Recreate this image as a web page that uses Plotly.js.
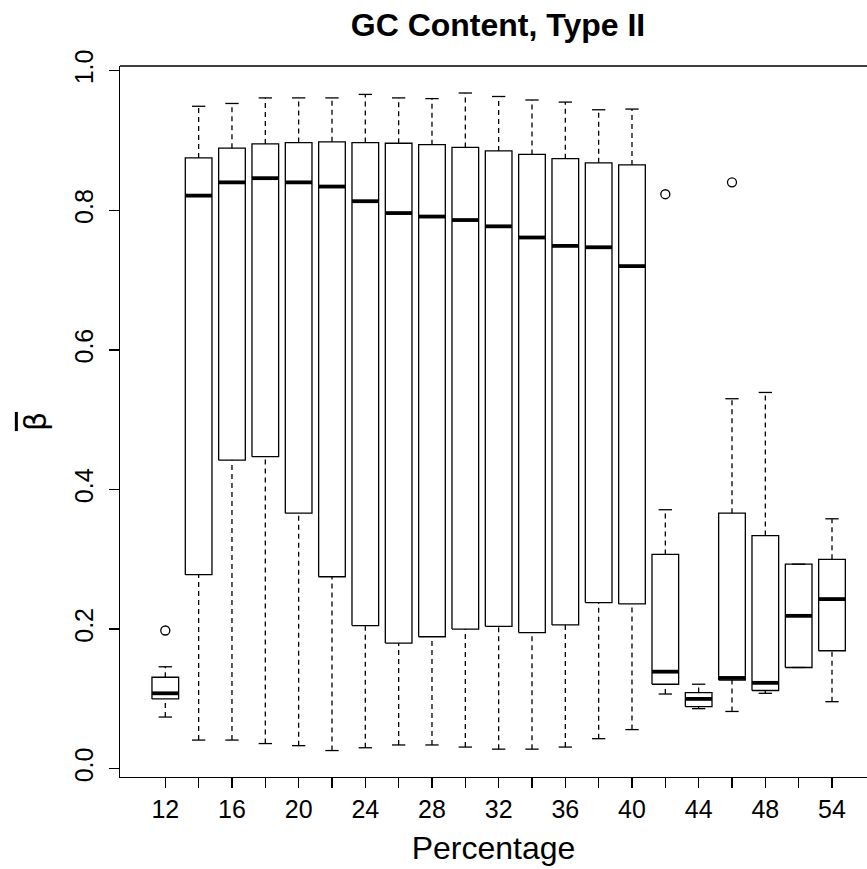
<!DOCTYPE html>
<html>
<head>
<meta charset="utf-8">
<script src="https://cdn.plot.ly/plotly-3.0.1.min.js"></script>
<style>
  html, body { margin: 0; padding: 0; background: #ffffff; }
  #chart { width: 867px; height: 869px; }
</style>
</head>
<body>
<div id="chart"></div>
<script>
// ---- data ----
const categories   = ['12','14','16','18','20','22','24','26','28','30','32','34','36','38','40','42','44','46','48','50','54'];
const xTickLabels  = ['12','','16','','20','','24','','28','','32','','36','','40','','44','','48','','54'];
const lowWhisker   = [0.074,0.041,0.041,0.036,0.033,0.026,0.030,0.034,0.034,0.031,0.028,0.028,0.031,0.043,0.056,0.107,0.086,0.082,0.108,0.145,0.096];
const q1           = [0.100,0.278,0.442,0.447,0.366,0.275,0.205,0.180,0.189,0.200,0.204,0.195,0.206,0.238,0.236,0.121,0.089,0.127,0.112,0.145,0.169];
const medians      = [0.108,0.821,0.840,0.846,0.840,0.834,0.813,0.796,0.791,0.786,0.777,0.761,0.749,0.747,0.720,0.139,0.100,0.130,0.123,0.219,0.243];
const q3           = [0.131,0.875,0.889,0.895,0.897,0.898,0.897,0.896,0.894,0.890,0.885,0.880,0.874,0.868,0.865,0.307,0.109,0.366,0.334,0.293,0.300];
const highWhisker  = [0.146,0.949,0.953,0.961,0.961,0.961,0.966,0.961,0.960,0.968,0.963,0.958,0.955,0.944,0.945,0.371,0.121,0.530,0.539,0.293,0.358];
const outlierCats  = ['12','42','46'];
const outlierVals  = [0.198,0.823,0.840];
const yTickVals    = [0.0,0.2,0.4,0.6,0.8,1.0];
const yTickLabels  = ['0.0','0.2','0.4','0.6','0.8','1.0'];

// ---- styling ----
const BOX_HALF = 0.4;     // R boxplot width 0.8
const CAP_HALF = 0.2;     // staple half width
const FONT = 'Liberation Sans, Arial, Helvetica, sans-serif';
const LW = 1.3;

const traces = [];
const idx = i => i; // category index as position

// boxes (one filled rectangle each)
categories.forEach((c, i) => {
  const x = idx(i);
  traces.push({
    type: 'scatter', mode: 'lines', hoverinfo: 'skip', showlegend: false,
    x: [x - BOX_HALF, x + BOX_HALF, x + BOX_HALF, x - BOX_HALF, x - BOX_HALF],
    y: [q1[i], q1[i], q3[i], q3[i], q1[i]],
    fill: 'toself', fillcolor: '#ffffff',
    line: { color: '#000000', width: LW }
  });
});

// whiskers (dashed)
const wx = [], wy = [];
categories.forEach((c, i) => {
  const x = idx(i);
  wx.push(x, x, null, x, x, null);
  wy.push(q3[i], highWhisker[i], null, lowWhisker[i], q1[i], null);
});
traces.push({
  type: 'scatter', mode: 'lines', hoverinfo: 'skip', showlegend: false,
  x: wx, y: wy, line: { color: '#000000', width: LW, dash: '5px,4px' }
});

// staples
const sx = [], sy = [];
categories.forEach((c, i) => {
  const x = idx(i);
  sx.push(x - CAP_HALF, x + CAP_HALF, null, x - CAP_HALF, x + CAP_HALF, null);
  sy.push(highWhisker[i], highWhisker[i], null, lowWhisker[i], lowWhisker[i], null);
});
traces.push({
  type: 'scatter', mode: 'lines', hoverinfo: 'skip', showlegend: false,
  x: sx, y: sy, line: { color: '#000000', width: LW }
});

// medians (thick)
const mx = [], my = [];
categories.forEach((c, i) => {
  const x = idx(i);
  mx.push(x - BOX_HALF, x + BOX_HALF, null);
  my.push(medians[i], medians[i], null);
});
traces.push({
  type: 'scatter', mode: 'lines', hoverinfo: 'skip', showlegend: false,
  x: mx, y: my, line: { color: '#000000', width: 3.8 }
});

// outliers
traces.push({
  type: 'scatter', mode: 'markers', hoverinfo: 'skip', showlegend: false,
  x: outlierCats.map(c => categories.indexOf(c)), y: outlierVals,
  marker: { symbol: 'circle-open', size: 9, color: '#000000', line: { width: LW, color: '#000000' } }
});

const layout = {
  width: 867, height: 869,
  margin: { l: 120, r: 0, t: 66, b: 92 },
  paper_bgcolor: '#ffffff', plot_bgcolor: '#ffffff',
  font: { family: FONT, color: '#000000', size: 25 },
  title: {
    text: '<b>GC Content, Type II</b>',
    font: { family: FONT, size: 32, color: '#000000' },
    xref: 'container', x: 498 / 867, xanchor: 'center',
    yref: 'container', y: 1 - 25 / 869, yanchor: 'middle'
  },
  xaxis: {
    range: [-1.359, 21.05],
    tickmode: 'array',
    tickvals: categories.map((c, i) => idx(i)),
    ticktext: xTickLabels,
    ticks: 'outside', ticklen: 10, tickwidth: LW, tickcolor: '#000000',
    showline: true, linecolor: '#000000', linewidth: LW,
    showgrid: false, zeroline: false,
    tickfont: { family: FONT, size: 25, color: '#000000' },
    ticklabelstandoff: 0,
    title: { text: 'Percentage', font: { family: FONT, size: 32, color: '#000000' }, standoff: 14 },
    automargin: false, fixedrange: true
  },
  yaxis: {
    range: [-0.0119, 1.0067],
    tickmode: 'array',
    tickvals: yTickVals,
    ticktext: yTickLabels,
    tickangle: -90,
    ticks: 'outside', ticklen: 10, tickwidth: LW, tickcolor: '#000000',
    showline: true, linecolor: '#000000', linewidth: LW,
    showgrid: false, zeroline: false,
    tickfont: { family: FONT, size: 25, color: '#000000' },
    ticklabelstandoff: 6,
    title: { text: '<span style="text-decoration: overline">β</span>', font: { family: 'DejaVu Sans, ' + FONT, size: 30, color: '#000000' }, standoff: 14 },
    automargin: false, fixedrange: true
  },
  shapes: [
    { type: 'line', xref: 'paper', yref: 'paper', x0: 0, x1: 1, y0: 1, y1: 1,
      line: { color: '#000000', width: LW } }
  ]
};

Plotly.newPlot('chart', traces, layout, { displayModeBar: false, staticPlot: true });
</script>
</body>
</html>
